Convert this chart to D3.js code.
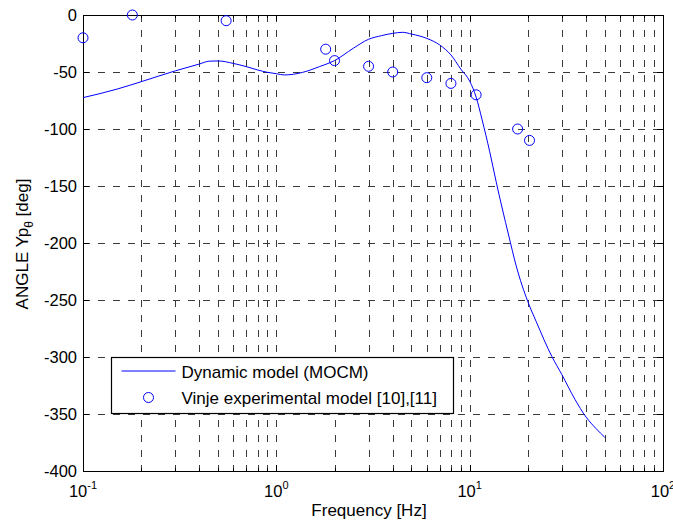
<!DOCTYPE html>
<html>
<head>
<meta charset="utf-8">
<script src="https://cdn.jsdelivr.net/npm/d3@7"></script>
<style>
  body { margin: 0; background: #fff; }
  text { font-family: "Liberation Sans", Arial, sans-serif; fill: #000; }
</style>
</head>
<body>
<div id="chart"></div>
<script>
// model curve
var modelFreq = [0.1, 0.15, 0.2, 0.3, 0.4, 0.45, 0.5, 0.6, 0.7, 0.8, 0.9, 1.0, 1.1, 1.37, 1.67, 2.0, 2.5, 3.0,
    3.5, 4.0, 4.5, 5.0, 6.0, 7.0, 8.0, 9.0, 10.0, 10.8, 11.6, 12.7, 13.7, 14.8, 15.9, 17.4, 20, 22.1, 26.6,
    30, 35, 40, 45, 50];
var modelAngle = [-72.5, -65, -58.5, -49, -43, -40.5, -40.3, -42.5, -45.3, -48.2, -50.3, -51.5, -52.6, -50.3, -45.3, -40, -29.2, -21.3,
    -18.1, -16.1, -15.2, -16.7, -20.5, -26.3, -35, -47.5, -58, -72, -92, -120, -146, -171, -193, -220, -251.5, -269, -299.5,
    -315.5, -337, -352.7, -362.7, -370.5];

// experimental points
var expFreq = [0.1, 0.18, 0.55, 1.8, 2.0, 3.0, 4.0, 6.0, 8.0, 10.8, 17.7, 20.4];
var expAngle = [-20, 0, -5, -30, -40, -45, -50, -55, -60, -70, -100, -110];

var yTicks = [0, -50, -100, -150, -200, -250, -300, -350, -400];
var xDecades = [0.1, 1, 10, 100];
var xExponents = ["-1", "0", "1", "2"];
var legendLabels = ["Dynamic model (MOCM)", "Vinje experimental model [10],[11]"];

var W = 673, H = 526;
var margin = {top: 15, right: 10, bottom: 55, left: 83};
var plotW = 663 - margin.left, plotH = 471 - margin.top;

var svg = d3.select("#chart").append("svg")
    .attr("width", W)
    .attr("height", H);

var g = svg.append("g")
    .attr("transform", "translate(" + margin.left + "," + margin.top + ")");

var x = d3.scaleLog().domain([0.1, 100]).range([0, plotW]);
var y = d3.scaleLinear().domain([-400, 0]).range([plotH, 0]);

// minor + major positions on the log axis
var xAll = x.ticks();

// grid
var dash = "7,8";
g.selectAll(".vgrid")
    .data(xAll.filter(function(d) { return d > 0.1 && d < 100; }))
    .enter().append("line")
    .attr("class", "vgrid")
    .attr("x1", function(d) { return Math.round(x(d)) + 0.5; })
    .attr("x2", function(d) { return Math.round(x(d)) + 0.5; })
    .attr("y1", 0).attr("y2", plotH)
    .attr("stroke", "#3a3a3a").attr("stroke-dasharray", dash);

g.selectAll(".hgrid")
    .data(yTicks.filter(function(d) { return d > -400 && d < 0; }))
    .enter().append("line")
    .attr("class", "hgrid")
    .attr("y1", function(d) { return Math.round(y(d)) + 0.5; })
    .attr("y2", function(d) { return Math.round(y(d)) + 0.5; })
    .attr("x1", 0).attr("x2", plotW)
    .attr("stroke", "#3a3a3a").attr("stroke-dasharray", dash);

// ticks inside the box
g.selectAll(".ytk")
    .data(yTicks)
    .enter().append("path")
    .attr("d", function(d) {
        var yy = Math.round(y(d)) + 0.5;
        return "M0," + yy + "h6M" + plotW + "," + yy + "h-6";
    })
    .attr("stroke", "#000");

g.selectAll(".xtk")
    .data(xAll)
    .enter().append("path")
    .attr("d", function(d) {
        var len = xDecades.indexOf(d) >= 0 ? 6 : 3;
        var xx = Math.round(x(d)) + 0.5;
        return "M" + xx + "," + plotH + "v-" + len + "M" + xx + ",0v" + len;
    })
    .attr("stroke", "#000");

// box
g.append("rect")
    .attr("x", 0.5).attr("y", 0.5)
    .attr("width", plotW).attr("height", plotH)
    .attr("fill", "none").attr("stroke", "#000");

// tick labels
g.selectAll(".ylab")
    .data(yTicks)
    .enter().append("text")
    .attr("x", -6)
    .attr("y", function(d) { return y(d); })
    .attr("dy", "0.36em")
    .attr("text-anchor", "end")
    .style("font-size", "16.5px")
    .text(function(d) { return d; });

var xl = g.selectAll(".xlab")
    .data(xDecades)
    .enter().append("text")
    .attr("x", function(d) { return x(d); })
    .attr("y", plotH + 26)
    .attr("text-anchor", "middle")
    .style("font-size", "16.5px");
xl.append("tspan").text("10");
xl.append("tspan")
    .attr("dy", -8)
    .style("font-size", "11px")
    .text(function(d, i) { return xExponents[i]; });

// axis titles
svg.append("text")
    .attr("x", 369).attr("y", 516)
    .attr("text-anchor", "middle")
    .style("font-size", "17px")
    .text("Frequency [Hz]");

var yt = svg.append("text")
    .attr("transform", "translate(28,244) rotate(-90)")
    .attr("text-anchor", "middle")
    .style("font-size", "17px");
yt.append("tspan").text("ANGLE Yp");
yt.append("tspan").attr("dy", 5).style("font-size", "12px").text("θ");
yt.append("tspan").attr("dy", -5).text(" [deg]");

// model line
var line = d3.line()
    .x(function(d) { return x(d[0]); })
    .y(function(d) { return y(d[1]); })
    .curve(d3.curveMonotoneX);

g.append("path")
    .datum(d3.zip(modelFreq, modelAngle))
    .attr("d", line)
    .attr("fill", "none")
    .attr("stroke", "#0000ff")
    .attr("stroke-width", 1);

// experimental circles
g.selectAll(".pt")
    .data(d3.zip(expFreq, expAngle))
    .enter().append("circle")
    .attr("class", "pt")
    .attr("cx", function(d) { return x(d[0]); })
    .attr("cy", function(d) { return y(d[1]); })
    .attr("r", 5)
    .attr("fill", "none")
    .attr("stroke", "#0000ff");

// legend
var lg = svg.append("g").attr("transform", "translate(111.5,357.5)");
lg.append("rect")
    .attr("width", 342).attr("height", 56)
    .attr("fill", "#fff").attr("stroke", "#000").attr("stroke-width", 1.2);
lg.append("line")
    .attr("x1", 10).attr("x2", 64)
    .attr("y1", 13.5).attr("y2", 13.5)
    .attr("stroke", "#0000ff");
lg.append("circle")
    .attr("cx", 37).attr("cy", 40).attr("r", 5)
    .attr("fill", "none").attr("stroke", "#0000ff");
lg.selectAll(".lt")
    .data(legendLabels)
    .enter().append("text")
    .attr("x", 70)
    .attr("y", function(d, i) { return 20 + i * 26; })
    .style("font-size", "17px")
    .text(function(d) { return d; });
</script>
</body>
</html>
